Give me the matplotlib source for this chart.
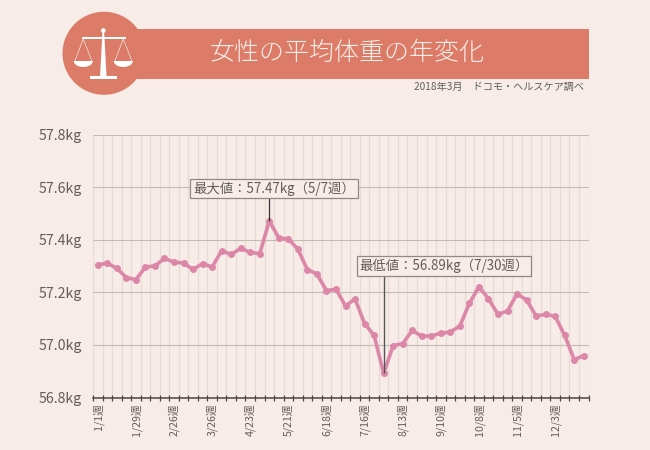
import matplotlib
matplotlib.use('Agg')
import matplotlib.pyplot as plt
from matplotlib.patches import Circle, Rectangle, Polygon
import numpy as np

plt.rcParams['font.family'] = ['Noto Sans CJK JP', 'DejaVu Sans']

BG = '#f8ece8'
BANNER = '#dc7c68'
PINK = '#dc86a8'
GREY = '#625d5a'

title = '女性の平均体重の年変化'
source = '2018年3月　ドコモ・ヘルスケア調べ'

week_labels = ['1/1週', '1/29週', '2/26週', '3/26週', '4/23週', '5/21週', '6/18週',
               '7/16週', '8/13週', '9/10週', '10/8週', '11/5週', '12/3週']

weights = [57.304, 57.311, 57.291, 57.256, 57.248, 57.296, 57.300, 57.329, 57.315,
           57.311, 57.287, 57.309, 57.296, 57.358, 57.344, 57.367, 57.352, 57.347,
           57.472, 57.406, 57.403, 57.364, 57.286, 57.270, 57.206, 57.212, 57.148,
           57.175, 57.081, 57.036, 56.892, 56.997, 57.005, 57.055, 57.033, 57.034,
           57.044, 57.049, 57.072, 57.158, 57.221, 57.176, 57.116, 57.129, 57.194,
           57.171, 57.110, 57.116, 57.109, 57.036, 56.944, 56.959]

y_ticks = [56.8, 57.0, 57.2, 57.4, 57.6, 57.8]

fig = plt.figure(figsize=(6.5, 4.5), dpi=100, facecolor=BG)

# header drawn in pixel coordinates
top = fig.add_axes([0, 0, 1, 1], zorder=0)
top.set_xlim(0, 650)
top.set_ylim(450, 0)
top.axis('off')
top.add_patch(Rectangle((120, 28.5), 468.5, 50, color=BANNER, lw=0))
top.add_patch(Circle((104, 53.3), 41.5, color=BANNER, lw=0))
top.text(347, 53, title, color='#fbeee8', fontsize=18, ha='center', va='center', fontweight='light')
top.text(584, 86.5, source, color=GREY, fontsize=7.3, ha='right', va='center')

# scales icon
top.add_patch(Circle((103.3, 30.5), 2.3, color='white', lw=0))
top.add_patch(Polygon([(102.5, 31), (104.1, 31), (106.5, 76), (100.1, 76)], color='white', lw=0))
top.add_patch(Rectangle((90, 75.5), 27.3, 3.5, color='white', lw=0))
top.add_patch(Rectangle((81.7, 37.2), 44, 1.6, color='white', lw=0))
theta = np.linspace(0, np.pi, 30)
for cx in (83.3, 123.3):
    top.plot([cx, cx - 8.5], [39, 61], color='white', lw=0.4)
    top.plot([cx, cx + 8.5], [39, 61], color='white', lw=0.4)
    top.add_patch(Polygon(np.c_[cx + 9.5 * np.cos(theta), 61 + 6 * np.sin(theta)], color='white', lw=0))

ax = fig.add_axes([93 / 650, 1 - 397.5 / 450, 495.5 / 650, 263 / 450], zorder=1)
ax.patch.set_alpha(0)

x = np.arange(len(weights))
ax.set_xlim(-0.5, len(weights) - 0.5)
ax.set_ylim(56.8, 57.8)

for s in ['top', 'left', 'right']:
    ax.spines[s].set_visible(False)
ax.spines['bottom'].set_color('#4a4644')
ax.spines['bottom'].set_linewidth(1.1)

edges = np.arange(len(weights) + 1) - 0.5
ax.vlines(edges, 56.8, 57.8, color='#e6dbd5', lw=0.9, zorder=1)
ax.hlines(y_ticks[1:], -0.5, len(weights) - 0.5, color='#c2bab4', lw=0.8, zorder=2)

ax.plot(x, weights, color=PINK, lw=2.6, marker='o', ms=5, mew=0, zorder=3, clip_on=False)

ax.set_xticks(edges, minor=True)
ax.set_xticks(x[::4])
ax.set_xticklabels(week_labels, rotation=90, fontsize=7.7, color=GREY)
ax.tick_params(axis='x', which='major', length=0, pad=4)
ax.tick_params(axis='x', which='minor', length=4, width=0.9, color='#4a4644', direction='inout')

ax.set_yticks(y_ticks)
ax.set_yticklabels(['%.1fkg' % v for v in y_ticks], fontsize=10.2, color=GREY)
ax.tick_params(axis='y', length=0, pad=8)

box = dict(boxstyle='square,pad=0.2', fc=BG, ec='#8f8985', lw=0.9)
hi = int(np.argmax(weights))
lo = int(np.argmin(weights))
ax.vlines(hi, weights[hi], 57.57, color='#333333', lw=0.9, zorder=4)
ax.vlines(lo, weights[lo], 57.27, color='#555555', lw=1.0, zorder=4)
ax.text(274, 188.5, '最大値：%.2fkg（5/7週）' % weights[hi], ha='center', va='center', fontsize=9.6,
        color=GREY, bbox=box, transform=top.transData, zorder=5)
ax.text(444, 266, '最低値：%.2fkg（7/30週）' % weights[lo], ha='center', va='center', fontsize=9.6,
        color=GREY, bbox=box, transform=top.transData, zorder=5)

fig.savefig('out.png', dpi=100, facecolor=BG)
